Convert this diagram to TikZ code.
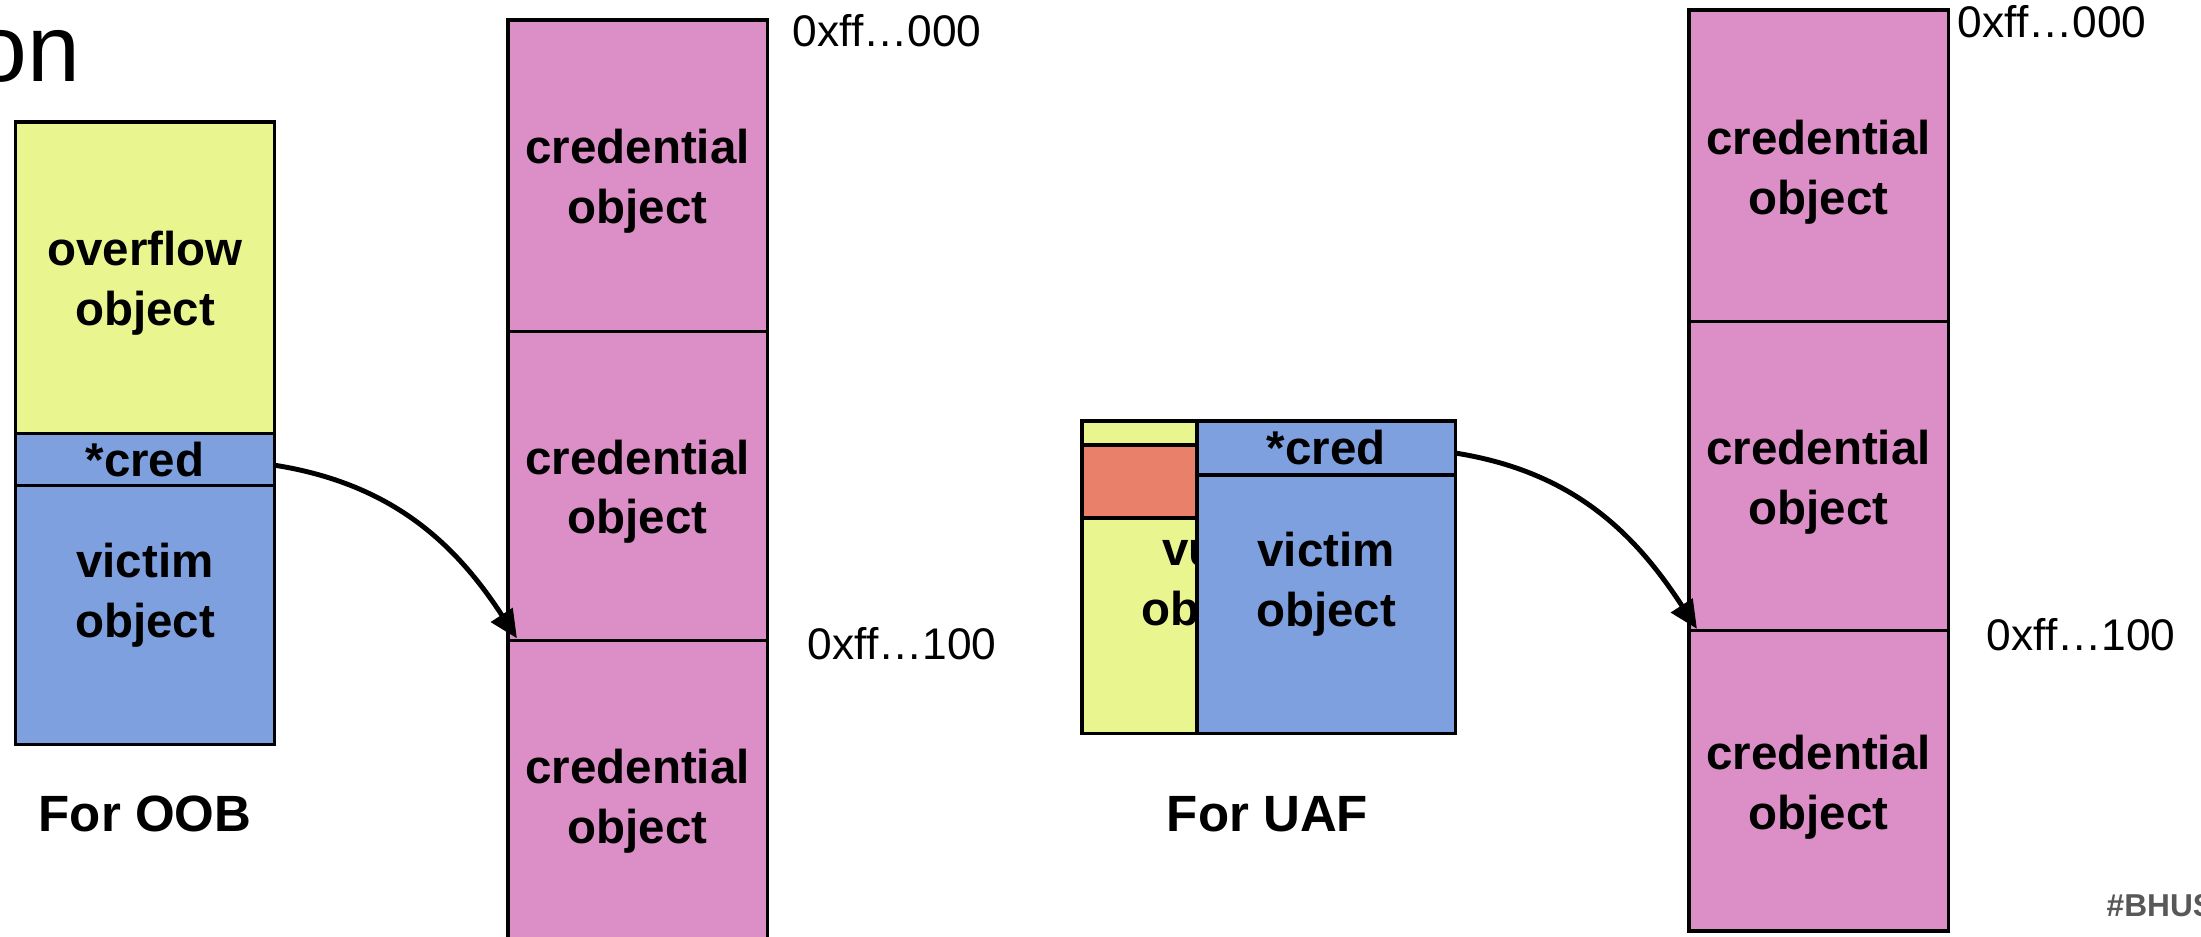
\documentclass[tikz,border=0pt]{standalone}
\usepackage{fontspec}
\setmainfont{Liberation Sans}
\usetikzlibrary{positioning,arrows.meta}

\definecolor{ovfyellow}{RGB}{233,245,143}
\definecolor{vicblue}{RGB}{127,160,222}
\definecolor{credpink}{RGB}{220,143,199}
\definecolor{freedred}{RGB}{232,128,106}
\definecolor{taggray}{RGB}{88,88,88}

\newcommand{\objfont}{\fontsize{13.5}{17}\selectfont\bfseries}
\newcommand{\addrfont}{\fontsize{12.6}{15}\selectfont}

\begin{document}
\begin{tikzpicture}[x=0.01cm, y=-0.01cm,
    slot/.style={draw, line width=0.9pt, inner sep=0pt, outer sep=0pt, minimum width=2.59cm, align=center, font=\objfont},
    objtxt/.style={font=\objfont, align=center, inner sep=0pt, yshift=-0.06cm},
    addr/.style={anchor=base west, inner sep=0pt, font=\addrfont},
    caption/.style={font=\fontsize{14.5}{17}\selectfont\bfseries},
    >={Triangle[length=0.28cm, width=0.25cm]}]

    \useasboundingbox (0,0) rectangle (2201,937);
    \clip (0,0) rectangle (2201,937);
    \fill [white] (0,0) rectangle (2201,937);

    \node [anchor=base east, inner sep=0pt, font=\fontsize{27}{30}\selectfont] (ttl) at (81,82) {on};

    % out-of-bounds case
    \node [slot, fill=ovfyellow, minimum height=3.11cm, anchor=north] (ovf) at (145,122) {};
    \node [slot, fill=vicblue, minimum height=0.52cm] (ptr1) [below=0pt of ovf] {*cred};
    \node [slot, fill=vicblue, minimum height=2.59cm] (vic1) [below=0pt of ptr1] {};
    \node [objtxt] (otxt1) at (ovf) {overflow\\object};
    \node [objtxt] (vtxt1) at (145,589) {victim\\object};
    \node [caption] (cap1) at (145,814) {For OOB};

    % credential slab, middle
    \node [slot, fill=credpink, minimum height=3.11cm, anchor=north] (crA1) at (637.5,20) {};
    \node [slot, fill=credpink, minimum height=3.09cm] (crA2) [below=0pt of crA1] {};
    \node [slot, fill=credpink, minimum height=3.1cm] (crA3) [below=0pt of crA2] {};
    \node [objtxt] (ctA1) at (crA1) {credential\\object};
    \node [objtxt] (ctA2) at (crA2) {credential\\object};
    \node [objtxt] (ctA3) at (crA3) {credential\\object};
    \node [addr] (adA1) at (792,47) {0xff…000};
    \node [addr] (adA2) at (807,659) {0xff…100};

    % use-after-free case
    \node [slot, fill=ovfyellow, minimum width=2.58cm, minimum height=3.12cm, anchor=north west] (vul) at (1082,421) {};
    \node [objtxt] (utxt) at (vul) {vuln\\object};
    \node [slot, fill=freedred, minimum width=2.58cm, minimum height=0.73cm, anchor=north west] (frd) at (1082,445) {};
    \node [slot, fill=vicblue, minimum width=2.58cm, minimum height=0.54cm, anchor=north west] (ptr2) at (1197,421) {*cred};
    \node [slot, fill=vicblue, minimum width=2.58cm, minimum height=2.58cm] (vic2) [below=0pt of ptr2] {};
    \node [objtxt] (vtxt2) at (1326,578) {victim\\object};
    \node [caption] (cap2) at (1267.5,814) {For UAF};

    % credential slab, right
    \node [slot, fill=credpink, minimum height=3.115cm, anchor=north] (crB1) at (1818.5,10) {};
    \node [slot, fill=credpink, minimum height=3.09cm] (crB2) [below=0pt of crB1] {};
    \node [slot, fill=credpink, minimum height=3.0cm] (crB3) [below=0pt of crB2] {};
    \node [objtxt] (ctB1) at (crB1) {credential\\object};
    \node [objtxt] (ctB2) at (crB2) {credential\\object};
    \node [objtxt] (ctB3) at (crB3) {credential\\object};
    \node [addr] (adB1) at (1957,38) {0xff…000};
    \node [addr] (adB2) at (1986,650) {0xff…100};

    \draw [->, line width=1.4pt] ([yshift=-0.06cm]ptr1.east) to [out=-9, in=123] ([xshift=0.09cm, yshift=0.02cm]crA2.south west);
    \draw [->, line width=1.4pt] ([yshift=-0.05cm]ptr2.east) to [out=-9, in=123] ([xshift=0.08cm, yshift=0.02cm]crB2.south west);

    \node [anchor=base west, inner sep=0pt, text=taggray, font=\fontsize{9}{10}\selectfont\bfseries] (tag) at (2106,916) {\#BHUS};

\end{tikzpicture}
\end{document}
